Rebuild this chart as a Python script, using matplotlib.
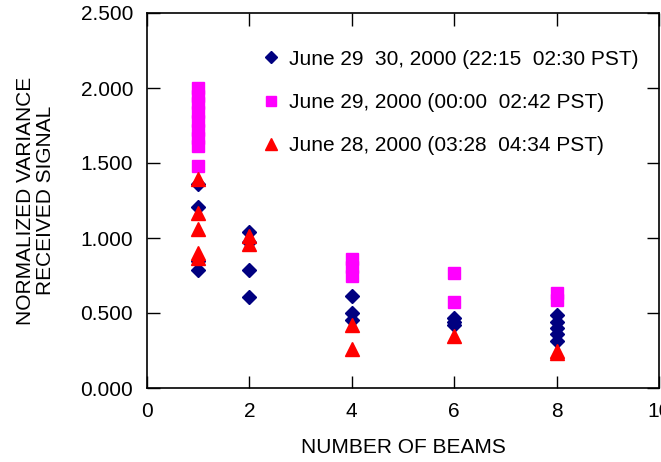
import matplotlib
matplotlib.use("Agg")
import matplotlib.pyplot as plt
from matplotlib.ticker import FormatStrFormatter

plt.rcParams['font.family'] = ['Liberation Sans', 'DejaVu Sans']

# Series 1: June 29-30 (diamonds)
beams_d = [1, 1, 1, 1, 2, 2, 2, 2, 4, 4, 4, 6, 6, 6, 8, 8, 8, 8, 8]
vals_d = [1.36, 1.205, 0.85, 0.787, 1.042, 0.975, 0.787, 0.609,
          0.615, 0.498, 0.453, 0.467, 0.44, 0.42, 0.49, 0.44, 0.40, 0.36, 0.315]

# Series 2: June 29 (squares)
beams_s = [1, 1, 1, 1, 1, 1, 1, 1, 1, 4, 4, 4, 6, 6, 8, 8]
vals_s = [2.00, 1.95, 1.90, 1.84, 1.78, 1.72, 1.67, 1.61, 1.48,
          0.862, 0.81, 0.75, 0.765, 0.571, 0.631, 0.585]

# Series 3: June 28 (triangles)
beams_t = [1, 1, 1, 1, 1, 2, 2, 4, 4, 6, 8, 8]
vals_t = [1.393, 1.167, 1.062, 0.90, 0.867, 1.013, 0.96, 0.423, 0.26, 0.347, 0.245, 0.232]

labels = ["June 29  30, 2000 (22:15  02:30 PST)",
          "June 29, 2000 (00:00  02:42 PST)",
          "June 28, 2000 (03:28  04:34 PST)"]

x_ticks = [0, 2, 4, 6, 8, 10]
y_ticks = [0.0, 0.5, 1.0, 1.5, 2.0, 2.5]

FS = 15

fig = plt.figure(figsize=(6.61, 4.62), dpi=100)
ax = fig.add_axes([147/661, 1 - 388/462, (659 - 147)/661, (388 - 13)/462])

ax.plot(beams_d, vals_d, linestyle='none', marker='D', ms=7.4, color='#000080',
        mec='#000080', label=labels[0])
ax.plot(beams_s, vals_s, linestyle='none', marker='s', ms=8.6, color='#FF00FF',
        mec='#FF00FF', label=labels[1])
ax.plot(beams_t, vals_t, linestyle='none', marker='^', ms=10, color='#FF0000',
        mec='#FF0000', label=labels[2])

ax.set_xlim(0, 10)
ax.set_ylim(0, 2.5)
ax.set_xticks(x_ticks)
ax.set_yticks(y_ticks)
ax.yaxis.set_major_formatter(FormatStrFormatter('%.3f'))
ax.tick_params(direction='in', length=9, width=1.0, top=True, right=True,
               labelsize=FS, colors='black')
ax.tick_params(axis='y', pad=10)
ax.tick_params(axis='x', pad=10)
for s in ax.spines.values():
    s.set_linewidth(1.2)

ax.set_xlabel('NUMBER OF BEAMS', fontsize=FS, labelpad=12)
ax.set_ylabel('NORMALIZED VARIANCE\nRECEIVED SIGNAL', fontsize=FS, labelpad=18,
              linespacing=1.1)

leg = ax.legend(loc='upper left', bbox_to_anchor=(0.222, 0.902), frameon=False,
                fontsize=FS, labelspacing=1.16, handletextpad=0.35,
                handlelength=1.0, markerscale=0.8, borderpad=0, borderaxespad=0)

fig.savefig('out.png', dpi=100)
